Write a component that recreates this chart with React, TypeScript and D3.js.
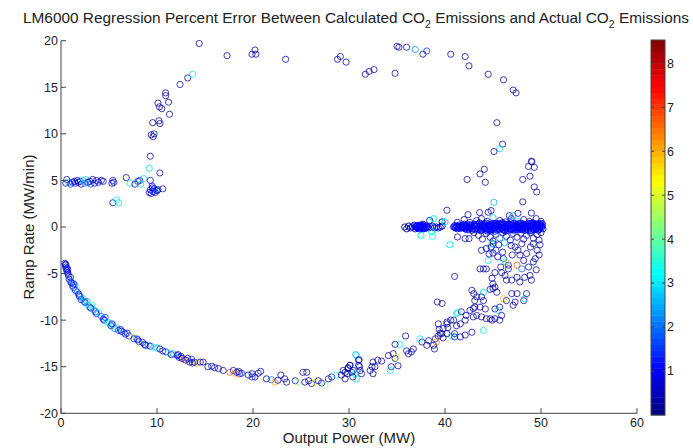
import React from "react";
import * as d3 from "d3";

// ---------- data: [output power MW, ramp rate MW/min, percent error] ----------
const plateauBand: [number, number, number][] = [
  [0.5, 4.7, 0.4], [0.6, 5.1, 0.3], [0.8, 4.8, 2.5], [1.0, 4.6, 1.5], [1.2, 4.8, 0.6], [1.4, 4.9, 0.4],
  [1.5, 4.7, 1.2], [1.7, 5.0, 0.9], [1.8, 4.8, 0.5], [2.0, 4.9, 1.0], [2.1, 4.6, 0.3], [2.3, 5.0, 2.8],
  [2.5, 4.7, 2.2], [2.6, 5.1, 3.0], [2.8, 4.8, 1.1], [3.0, 4.9, 0.5], [3.1, 4.6, 1.8], [3.3, 5.1, 0.3],
  [3.5, 4.7, 0.9], [3.7, 5.0, 0.4], [3.9, 4.8, 1.0], [4.2, 5.0, 0.3], [4.4, 4.9, 0.6], [5.3, 4.7, 0.8],
  [5.4, 5.0, 1.2], [5.5, 4.8, 0.5], [5.4, 2.6, 0.4], [6.0, 2.6, 3.0], [5.8, 2.9, 3.1], [6.8, 5.3, 0.3],
  [7.2, 4.7, 3.0], [7.7, 4.6, 0.3], [8.0, 4.9, 0.3], [8.2, 5.0, 0.4], [8.3, 4.6, 3.0], [8.6, 5.2, 2.8],
  [9.3, 5.0, 0.3], [9.2, 3.7, 0.9], [9.3, 4.0, 1.0], [9.4, 3.6, 0.8], [9.5, 4.2, 1.1], [9.6, 3.8, 0.9],
  [9.7, 4.1, 0.4], [9.8, 3.7, 1.2], [9.9, 4.0, 2.5], [10.0, 3.9, 0.7], [10.1, 4.0, 0.3], [10.6, 4.1, 0.3],
  [9.5, 4.4, 1.0],
];

const risingArc: [number, number, number][] = [
  [10.3, 5.8, 0.3], [9.3, 7.6, 0.3], [9.2, 6.3, 3.0], [9.4, 9.9, 0.3], [9.6, 9.7, 0.3], [9.7, 10.0, 0.4],
  [9.55, 11.2, 0.3], [10.2, 11.4, 0.3], [10.3, 11.1, 0.3], [10.1, 13.3, 0.3], [10.25, 12.9, 0.3],
  [10.5, 12.7, 0.3], [10.9, 14.4, 0.3], [10.9, 14.1, 0.3], [11.2, 13.4, 0.3], [11.3, 12.1, 0.3],
  [12.4, 15.3, 0.4], [13.2, 16.0, 0.3], [13.7, 16.4, 3.0], [14.4, 19.7, 0.3], [17.3, 18.4, 0.3],
  [19.9, 18.55, 0.3], [20.3, 18.55, 0.3], [20.2, 19.0, 0.3],
];

const topArc: [number, number, number][] = [
  [23.4, 18.0, 0.3], [28.8, 18.0, 0.3], [29.1, 18.3, 0.3], [29.7, 17.7, 0.3], [31.7, 16.4, 0.3],
  [32.1, 16.7, 0.3], [32.6, 16.9, 0.3], [34.8, 16.5, 0.3], [35.0, 19.4, 0.5], [35.2, 19.3, 0.3],
  [36.0, 19.3, 0.3], [36.9, 19.05, 2.2], [37.7, 18.55, 0.3], [38.1, 18.9, 1.5], [40.6, 18.55, 0.3],
  [42.1, 18.3, 0.3], [42.5, 17.3, 0.3], [44.5, 16.4, 0.3], [46.1, 15.8, 0.3], [47.1, 14.7, 0.3],
  [47.4, 14.4, 0.2], [45.4, 11.2, 0.3], [46.0, 8.9, 0.3], [45.7, 8.4, 2.8], [45.1, 8.1, 0.3],
  [49.0, 7.06, 0.1], [49.05, 7.0, 0.5], [48.7, 6.5, 0.3], [49.3, 6.4, 0.3], [48.85, 5.45, 0.3],
  [48.1, 5.1, 0.3], [49.3, 4.3, 0.3], [49.55, 3.76, 0.3], [42.3, 5.1, 0.3], [43.65, 5.7, 0.3],
  [44.1, 6.2, 0.3], [44.2, 4.8, 0.3], [45.1, 2.65, 2.5], [48.1, 2.7, 0.3], [40.2, 1.8, 0.3],
  [42.4, 1.33, 0.3], [43.6, 1.55, 0.3], [44.5, 1.58, 0.3], [44.8, 1.76, 0.3], [46.7, 1.22, 0.3],
  [47.1, 1.22, 2.6], [47.6, 1.47, 0.3], [49.0, 1.5, 0.3],
];

const steadyLeft: [number, number, number][] = [
  [35.8, 0.0, 0.3], [36.0, -0.2, 0.4], [36.2, 0.1, 0.3], [36.4, -0.1, 0.8], [36.6, 0.0, 0.3],
  [36.8, 0.2, 1.0], [36.9, -0.2, 1.0], [37.0, 0.0, 1.0], [37.1, 0.1, 1.0], [37.2, -0.1, 1.0],
  [37.3, 0.0, 1.0], [37.4, 0.2, 1.0], [37.5, -0.1, 1.0], [37.6, 0.0, 1.0], [37.7, 0.1, 1.0],
  [37.8, -0.2, 1.0], [37.9, 0.0, 1.0], [38.1, 0.1, 0.8], [38.3, -0.1, 0.3], [38.5, 0.0, 2.0],
  [38.7, 0.1, 0.6], [38.9, -0.1, 0.5], [39.1, 0.0, 1.1], [39.3, -0.1, 1.0], [39.5, 0.0, 1.2],
  [39.7, 0.1, 0.3], [38.6, -0.5, 3.0], [37.5, -0.9, 3.0], [38.7, -1.0, 3.5], [37.7, 0.3, 0.3],
  [38.4, 0.7, 0.3], [38.8, 0.9, 3.0], [39.7, 0.55, 0.3], [40.0, 0.55, 2.8], [40.5, -1.9, 3.0],
  [37.05, 0.15, 1.1], [37.15, -0.15, 1.1], [37.25, 0.1, 1.1], [37.35, -0.2, 1.1], [37.45, 0.05, 1.1],
  [37.55, 0.15, 1.1], [37.65, -0.15, 1.1], [37.75, 0.0, 1.1], [37.85, 0.15, 1.1], [38.0, -0.05, 1.1],
  [36.95, 0.05, 1.1], [37.95, -0.15, 1.1], [38.2, 0.0, 1.0],
];

const steadyBlob: [number, number, number][] = [
  [40.9, 0.0, 1.0], [41.1, -0.1, 1.0], [41.2, 0.1, 0.9], [41.4, 0.0, 1.0], [41.6, -0.15, 1.1],
  [41.7, 0.12, 1.0], [41.9, 0.0, 0.9], [42.1, -0.2, 1.0], [42.2, 0.15, 1.0], [42.4, 0.0, 1.1],
  [42.6, -0.1, 1.0], [42.7, 0.2, 0.9], [42.9, 0.0, 1.0], [43.1, -0.25, 1.0], [43.2, 0.1, 1.0],
  [43.4, 0.3, 0.8], [43.5, -0.05, 1.0], [43.7, 0.15, 1.1], [43.8, -0.3, 1.0], [44.0, 0.0, 1.0],
  [44.1, 0.35, 0.9], [44.3, -0.15, 1.0], [44.4, 0.2, 1.0], [44.6, 0.0, 1.1], [44.7, -0.35, 0.9],
  [44.9, 0.1, 1.0], [45.0, 0.4, 1.0], [45.1, -0.1, 1.0], [45.3, 0.2, 1.0], [45.4, -0.3, 1.0],
  [45.6, 0.05, 0.9], [45.7, 0.35, 1.0], [45.9, -0.15, 1.1], [46.0, 0.15, 1.0], [46.2, -0.35, 1.0],
  [46.3, 0.0, 1.0], [46.5, 0.3, 0.9], [46.6, -0.1, 1.0], [46.8, 0.15, 1.0], [46.9, -0.3, 1.1],
  [47.1, 0.0, 1.0], [47.2, 0.4, 1.0], [47.4, -0.15, 1.0], [47.5, 0.2, 0.9], [47.7, -0.05, 1.0],
  [47.8, 0.35, 1.0], [48.0, -0.3, 1.0], [48.1, 0.1, 1.1], [48.3, -0.1, 1.0], [48.4, 0.25, 1.0],
  [48.6, 0.0, 1.0], [48.7, -0.35, 0.9], [48.9, 0.15, 1.0], [49.0, 0.4, 1.0], [49.2, -0.1, 1.0],
  [49.3, 0.2, 1.1], [49.5, -0.25, 1.0], [49.6, 0.05, 1.0], [49.8, 0.3, 1.0], [49.9, -0.1, 0.9],
  [50.1, 0.1, 1.0], [50.2, -0.2, 0.3], [44.2, 0.05, 1.0], [44.8, -0.2, 1.0], [45.5, 0.25, 1.0],
  [46.1, -0.05, 1.0], [46.7, 0.3, 1.0], [47.3, -0.25, 1.0], [47.9, 0.1, 1.0], [48.5, -0.2, 1.0],
  [49.1, 0.3, 1.0], [49.7, -0.35, 1.0], [42.0, 0.3, 0.3], [42.8, -0.35, 0.3], [43.6, 0.45, 0.3],
  [41.0, 0.15, 1.1], [41.3, -0.2, 1.1], [41.5, 0.2, 1.1], [41.8, -0.05, 1.1], [42.0, 0.05, 1.1],
  [42.3, -0.3, 1.1], [42.5, 0.25, 1.1], [42.8, 0.05, 1.1], [43.0, 0.3, 1.1], [43.3, -0.15, 1.1],
  [43.6, 0.05, 1.1], [43.9, 0.25, 1.1], [44.05, -0.2, 1.1], [44.35, 0.4, 1.1], [44.55, -0.3, 1.1],
  [44.65, 0.25, 1.1], [44.85, 0.3, 1.1], [44.95, -0.15, 1.1], [45.15, 0.3, 1.1], [45.25, -0.05, 1.1],
  [45.45, 0.1, 1.1], [45.65, -0.25, 1.1], [45.8, 0.2, 1.1], [45.95, 0.45, 1.1], [46.05, -0.3, 1.1],
  [46.25, 0.25, 1.1], [46.4, 0.1, 1.1], [46.55, -0.35, 1.1], [46.75, 0.0, 1.1], [46.85, 0.45, 1.1],
  [47.0, 0.2, 1.1], [47.15, -0.35, 1.1], [47.35, 0.25, 1.1], [47.45, 0.05, 1.1], [47.6, -0.3, 1.1],
  [47.75, 0.15, 1.1], [47.95, 0.4, 1.1], [48.05, -0.1, 1.1], [48.2, 0.3, 1.1], [48.35, -0.35, 1.1],
  [48.45, 0.05, 1.1], [48.65, 0.35, 1.1], [48.8, -0.15, 1.1], [48.95, -0.4, 1.1], [49.05, 0.1, 1.1],
  [49.15, 0.45, 1.1], [49.25, -0.3, 1.1], [49.4, 0.0, 1.1], [49.45, 0.35, 1.1], [49.55, -0.1, 1.1],
  [49.65, 0.3, 1.1], [49.75, 0.0, 1.1], [49.85, -0.25, 1.1], [49.95, 0.2, 1.1], [50.05, -0.05, 1.1],
  [50.0, 0.4, 1.1], [43.7, -0.4, 1.1], [44.45, -0.45, 1.1], [45.2, -0.45, 1.1], [46.3, -0.45, 1.1],
  [41.05, -0.05, 1.0], [41.25, 0.05, 1.0], [41.45, -0.1, 1.0], [41.65, 0.05, 1.0], [41.85, 0.2, 1.0],
  [42.05, -0.1, 1.0], [42.25, 0.0, 1.0], [42.45, -0.2, 1.0], [42.65, 0.1, 1.0], [42.85, -0.2, 1.0],
  [43.05, 0.1, 1.0], [43.25, 0.25, 1.0], [43.45, -0.25, 1.0], [43.65, -0.15, 1.0], [43.85, 0.05, 1.0],
  [44.05, 0.2, 1.0], [44.25, -0.35, 1.0], [44.5, 0.1, 1.0], [44.7, 0.15, 1.0], [44.9, -0.3, 1.0],
  [45.1, 0.15, 1.0], [45.35, 0.4, 1.0], [45.55, -0.15, 1.0], [45.75, -0.05, 1.0], [45.9, 0.3, 1.0],
  [46.15, 0.35, 1.0], [46.35, -0.2, 1.0], [46.6, 0.2, 1.0], [46.8, -0.2, 1.0], [47.05, -0.15, 1.0],
  [47.25, 0.1, 1.0], [47.5, -0.05, 1.0], [47.65, 0.35, 1.0], [47.85, -0.2, 1.0], [48.1, -0.25, 1.0],
  [48.3, 0.15, 1.0], [48.55, 0.2, 1.0], [48.75, 0.05, 1.0], [48.85, 0.4, 1.0], [49.1, -0.2, 1.0],
  [49.3, -0.1, 1.0], [49.5, 0.15, 1.0], [49.7, 0.15, 1.0], [49.9, 0.05, 1.0], [50.15, 0.3, 1.0],
];

const blobFringe: [number, number, number][] = [
  [41.3, 0.5, 0.3], [42.0, 0.8, 0.3], [42.6, 0.5, 0.3], [43.3, 0.7, 0.3], [43.8, 0.9, 0.3],
  [44.4, 0.6, 0.3], [45.0, 1.0, 2.8], [45.7, 0.7, 0.3], [46.3, 0.55, 0.3], [46.9, 0.9, 0.3],
  [47.6, 0.6, 3.0], [48.2, 0.8, 0.3], [48.8, 0.6, 0.3], [49.5, 0.9, 0.3], [50.0, 0.6, 0.3],
  [41.3, -1.07, 0.3], [42.1, -1.25, 0.3], [42.5, -1.25, 0.3], [43.0, -0.6, 0.3], [43.5, -0.9, 0.3],
  [43.9, -1.3, 0.3], [44.3, -0.7, 0.3], [44.7, -1.1, 1.2], [45.0, -1.5, 0.3], [45.3, -0.8, 0.3],
  [45.7, -1.2, 2.0], [46.0, -0.6, 0.3], [46.4, -1.0, 0.3], [46.8, -1.4, 0.3], [47.1, -0.7, 1.5],
  [47.5, -1.1, 0.3], [47.9, -0.65, 0.3], [48.2, -1.3, 0.3], [48.5, -0.9, 1.2], [48.9, -0.6, 0.3],
  [49.2, -1.2, 0.3], [49.6, -0.8, 0.3], [50.0, -0.6, 0.3], [49.8, -1.4, 0.3], [44.9, -1.8, 3.0],
  [46.2, -1.7, 2.5], [48.0, -1.8, 0.3], [45.0, -2.8, 0.3], [45.3, -2.5, 1.5], [46.0, -2.7, 0.3],
  [45.6, -1.9, 0.3], [44.6, -2.9, 0.3], [47.8, -3.0, 0.3], [48.7, -4.3, 0.3], [49.5, -4.6, 0.3],
  [49.8, -3.0, 0.3], [49.9, -1.9, 0.3], [48.0, -4.5, 2.0], [47.0, -3.0, 0.3], [46.6, -4.5, 0.3],
  [45.8, -4.3, 0.3],
];

const descentScatter: [number, number, number][] = [
  [43.8, -2.5, 0.3], [44.3, -2.3, 0.3], [44.8, -2.15, 0.3], [45.0, -1.8, 0.3], [44.5, -3.6, 3.0],
  [45.5, -3.2, 0.3], [46.1, -3.4, 0.3], [46.3, -3.75, 3.0], [46.6, -4.1, 0.3], [46.9, -2.0, 0.3],
  [47.3, -2.15, 0.3], [47.6, -2.5, 0.3], [48.2, -3.6, 0.3], [48.5, -2.85, 0.3], [48.9, -2.15, 0.3],
  [49.2, -1.8, 0.3], [49.6, -2.5, 0.3], [49.4, -3.4, 0.3], [49.2, -3.75, 0.3], [47.5, -4.1, 6.8],
  [46.4, -3.9, 5.8], [43.65, -4.5, 0.3], [44.0, -4.5, 0.3], [44.3, -4.5, 0.3], [41.0, -5.3, 0.3],
  [45.2, -4.9, 0.3], [45.9, -4.9, 0.3], [46.25, -5.2, 0.3], [46.4, -5.7, 0.3], [46.95, -5.7, 0.3],
  [47.5, -5.4, 0.3], [47.8, -5.9, 0.3], [48.3, -5.4, 0.3], [48.85, -5.2, 0.3], [49.0, -5.7, 0.3],
  [44.9, -5.5, 0.3], [45.0, -6.1, 0.3], [45.2, -6.45, 0.3], [45.4, -7.0, 0.3], [45.0, -6.6, 0.3],
  [44.7, -6.7, 0.3], [42.8, -6.8, 0.3], [43.0, -7.15, 0.3], [43.3, -7.5, 0.3], [43.1, -7.9, 0.3],
  [44.0, -7.0, 3.0], [43.8, -7.5, 0.3], [44.0, -7.9, 0.3], [43.65, -8.6, 0.3], [44.2, -8.8, 0.3],
  [43.1, -8.6, 0.3], [46.1, -7.7, 6.0], [46.4, -7.9, 0.3], [47.1, -8.4, 0.3], [47.3, -8.05, 0.3],
  [48.2, -7.9, 0.3], [48.3, -7.7, 3.0], [48.5, -7.15, 0.3], [46.95, -7.15, 0.3], [47.5, -7.15, 0.3],
  [45.2, -8.8, 0.3], [45.55, -8.95, 3.0], [45.7, -8.6, 0.3], [45.2, -9.85, 0.3], [44.9, -10.0, 0.3],
  [45.7, -10.0, 0.3], [45.9, -9.5, 0.3], [41.2, -9.3, 3.0], [41.7, -9.1, 0.3], [42.2, -9.5, 0.3],
  [42.6, -8.95, 0.3], [42.95, -8.75, 0.3], [43.3, -9.5, 0.3], [43.8, -9.65, 0.3], [42.95, -9.65, 0.3],
  [42.1, -10.0, 0.3], [41.6, -10.4, 0.3], [40.9, -10.0, 0.3], [40.2, -10.4, 0.3], [39.8, -10.9, 0.3],
  [39.65, -11.45, 0.3], [40.2, -11.45, 0.3], [41.0, -11.45, 0.3], [41.6, -11.8, 0.3], [42.1, -11.6, 0.3],
  [42.8, -11.3, 0.3], [44.0, -11.1, 3.0], [44.3, -9.85, 0.3], [44.7, -9.85, 0.3], [39.2, -8.05, 0.3],
  [39.7, -8.2, 0.3], [41.3, -9.2, 3.0],
];

const recoveryArc: [number, number, number][] = [
  [39.3, -10.4, 0.3], [40.2, -10.2, 0.3], [40.6, -10.0, 0.3], [41.2, -10.6, 0.3], [40.3, -10.8, 0.3],
  [39.4, -11.0, 0.3], [39.5, -11.4, 0.3], [39.3, -11.7, 0.3], [39.8, -11.9, 0.3], [40.7, -11.7, 3.0],
  [41.0, -11.8, 0.3], [39.0, -12.0, 0.3], [39.1, -12.35, 6.5], [38.8, -12.7, 0.3], [38.9, -13.1, 0.3],
  [38.3, -12.2, 0.3], [38.1, -12.7, 0.3], [37.6, -12.35, 0.3], [37.4, -12.0, 3.0], [36.7, -13.1, 0.3],
  [36.5, -13.4, 0.3], [36.2, -13.6, 0.3], [36.0, -13.3, 0.3], [35.9, -11.7, 0.3], [35.3, -12.6, 3.0],
  [34.8, -12.6, 0.3], [34.6, -13.6, 0.3], [34.8, -14.1, 0.3], [35.0, -14.0, 5.0], [35.1, -14.9, 0.3],
  [34.4, -15.0, 0.3], [34.3, -15.4, 3.0], [34.1, -13.8, 0.3], [33.4, -14.4, 0.3], [33.0, -14.3, 0.3],
  [32.5, -14.5, 0.3], [32.7, -15.0, 0.3], [32.4, -15.0, 0.3], [32.2, -15.4, 0.3], [32.5, -15.75, 0.3],
  [30.8, -13.8, 3.0], [31.0, -14.3, 0.3], [31.1, -15.0, 0.3], [30.1, -14.85, 0.3], [29.9, -15.1, 0.3],
  [29.4, -15.4, 0.3], [29.8, -15.75, 0.3], [30.3, -15.6, 0.3], [30.6, -15.75, 3.0], [29.6, -16.3, 0.3],
  [30.4, -16.1, 0.3],
];

const loadingArc: [number, number, number][] = [
  [0.40, -3.9, 1.0], [0.45, -4.1, 0.5], [0.50, -4.3, 1.0], [0.55, -4.5, 1.2], [0.60, -4.7, 0.9],
  [0.65, -4.4, 1.5], [0.70, -4.9, 1.0], [0.75, -5.1, 1.1], [0.80, -5.3, 1.3], [0.85, -5.6, 0.9],
  [0.95, -5.5, 4.5], [1.00, -5.9, 1.8], [1.10, -6.0, 1.0], [1.20, -6.3, 1.2], [1.30, -6.5, 1.5],
  [1.40, -6.2, 2.2], [1.50, -6.8, 1.0], [1.60, -6.6, 4.0], [1.70, -7.0, 1.9], [1.85, -7.2, 1.0],
  [2.00, -7.5, 2.5], [2.10, -7.8, 1.2], [2.30, -7.7, 3.0], [2.50, -8.1, 0.6], [2.70, -8.0, 2.2],
  [2.80, -8.4, 3.2], [3.00, -8.6, 1.8], [3.20, -8.4, 3.5], [3.40, -8.9, 2.6], [3.60, -9.1, 1.2],
  [3.70, -9.3, 1.0], [3.90, -9.2, 3.2], [4.20, -9.6, 2.0], [4.40, -9.9, 1.0], [4.50, -10.0, 0.9],
  [4.80, -10.2, 3.5], [5.00, -10.3, 3.2], [5.20, -10.6, 0.6], [5.40, -10.5, 2.8], [5.60, -10.9, 2.0],
  [5.80, -10.8, 3.3], [6.00, -11.1, 1.4], [6.20, -11.0, 0.5], [6.50, -11.3, 2.5], [6.70, -11.5, 1.0],
  [6.90, -11.4, 0.4], [7.10, -11.7, 1.5], [7.40, -11.8, 5.5], [7.60, -12.0, 1.2], [7.90, -12.0, 2.0],
  [8.10, -12.3, 1.0], [8.30, -12.5, 5.0], [8.50, -12.4, 1.1], [8.70, -12.6, 1.0], [9.10, -12.7, 2.5],
  [9.30, -12.8, 0.5], [9.70, -12.9, 3.2], [10.0, -13.0, 2.8], [10.3, -13.1, 0.4], [10.6, -13.3, 0.3],
  [10.9, -13.4, 1.2], [11.2, -13.5, 3.3], [11.5, -13.7, 0.3], [11.7, -13.6, 2.5], [12.1, -13.8, 1.0],
  [12.3, -14.0, 1.2], [12.5, -13.9, 0.5], [12.8, -14.2, 6.5], [13.0, -14.3, 0.3], [13.2, -14.1, 0.5],
  [13.4, -14.5, 0.3], [13.6, -14.2, 1.5], [13.9, -14.5, 0.3], [14.2, -14.6, 6.0], [14.5, -14.5, 0.6],
  [15.3, -15.0, 0.3], [15.7, -14.95, 1.0], [16.0, -15.1, 0.3], [16.4, -15.2, 0.5], [16.9, -15.4, 0.3],
  [17.6, -15.6, 6.8], [17.95, -15.4, 0.3], [18.3, -15.6, 0.5], [18.6, -15.75, 1.0], [18.8, -15.7, 1.2],
  [19.5, -15.9, 0.3], [19.9, -15.75, 0.4], [20.2, -16.1, 0.3], [20.55, -15.7, 0.5], [20.8, -15.5, 0.3],
  [21.4, -16.3, 0.3], [21.9, -16.4, 2.0], [22.3, -16.65, 6.2], [22.6, -16.45, 0.3], [22.9, -15.9, 0.3],
  [23.3, -16.3, 0.5], [23.5, -16.65, 0.3], [24.4, -16.5, 0.3], [24.7, -16.65, 4.5], [25.2, -15.6, 0.3],
  [25.6, -15.6, 0.3], [25.4, -16.65, 0.5], [25.8, -16.5, 0.3], [26.1, -16.8, 0.3], [26.45, -16.65, 5.0],
  [26.8, -16.5, 0.3], [27.15, -16.75, 0.3], [27.5, -17.0, 4.2], [27.85, -16.3, 0.3], [28.2, -16.1, 0.3],
  [28.7, -15.9, 3.0], [29.2, -15.9, 0.3], [29.6, -15.6, 0.3], [29.9, -15.2, 0.3], [30.1, -14.85, 0.5],
  [30.45, -15.4, 0.3], [30.8, -16.3, 3.0], [31.0, -14.85, 0.3], [31.15, -15.4, 0.3], [31.3, -15.75, 0.3],
  [30.7, -13.7, 2.5], [31.05, -14.25, 0.3], [0.5, -4.0, 0.3], [0.7, -4.6, 1.0], [1.0, -5.4, 1.0],
  [1.3, -6.1, 1.1], [1.9, -7.4, 1.0], [2.4, -8.0, 2.0], [3.1, -8.7, 1.0], [4.6, -9.7, 1.5],
  [5.3, -10.4, 1.0], [6.3, -11.2, 1.0], [8.0, -12.1, 1.1], [8.8, -12.7, 0.5], [12.2, -13.7, 0.3],
  [12.6, -14.1, 0.3], [13.7, -14.6, 0.3], [14.8, -14.5, 0.3], [18.3, -15.8, 6.0], [18.5, -15.5, 0.3],
  [19.9, -16.1, 1.5],
];

const xTicks = [0, 10, 20, 30, 40, 50, 60];
const yTicks = [-20, -15, -10, -5, 0, 5, 10, 15, 20];
const cTicks = [1, 2, 3, 4, 5, 6, 7, 8];
const cMax = 8.53;

const scatterPoints = [
  ...loadingArc, ...recoveryArc, ...descentScatter, ...blobFringe, ...plateauBand,
  ...risingArc, ...topArc,
];
const densePoints = [...steadyLeft, ...steadyBlob];

// MATLAB jet colormap
function jet(t: number): string {
  const c = (v: number) => Math.max(0, Math.min(1, v));
  const r = c(1.5 - Math.abs(4 * t - 3));
  const g = c(1.5 - Math.abs(4 * t - 2));
  const b = c(1.5 - Math.abs(4 * t - 1));
  return d3.rgb(r * 255, g * 255, b * 255).formatHex();
}

const W = 693, H = 448;
const M = { left: 61, right: 637, top: 40.7, bottom: 413.3 };
const CB = { x: 651, w: 14, top: 40, bottom: 415 };
const FONT = "'Liberation Sans', Arial, sans-serif";

export default function App() {
  const x = d3.scaleLinear().domain([0, 60]).range([M.left, M.right]);
  const y = d3.scaleLinear().domain([-20, 20]).range([M.bottom, M.top]);
  const cNorm = d3.scaleLinear().domain([0, cMax]).range([0, 1]).clamp(true);
  const cY = d3.scaleLinear().domain([0, cMax]).range([CB.bottom, CB.top]);
  const bands = d3.range(64);
  const bandH = (CB.bottom - CB.top) / 64;
  const axisColor = "#444";

  return (
    <svg width={W} height={H} style={{ position: "absolute", left: 0, top: 0, background: "#fff" }}
      fontFamily={FONT}>
      <rect x={0} y={0} width={W} height={H} fill="#fff" />
      {/* title */}
      <text x={356} y={23} textAnchor="middle" fontSize={15.4} fill="#222">
        LM6000 Regression Percent Error Between Calculated CO
        <tspan fontSize={10.5} dy={5}>2</tspan>
        <tspan dy={-5}> Emissions and Actual CO</tspan>
        <tspan fontSize={10.5} dy={5}>2</tspan>
        <tspan dy={-5}> Emissions</tspan>
      </text>

      {/* points */}
      <g fill="none" strokeWidth={1}>
        {scatterPoints.map((p, i) => (
          <circle key={"s" + i} cx={x(p[0])} cy={y(p[1])} r={3.1} stroke={jet(cNorm(p[2]))} strokeOpacity={0.75} />
        ))}
        {densePoints.map((p, i) => (
          <circle key={"d" + i} cx={x(p[0])} cy={y(p[1])} r={3.1} stroke={jet(cNorm(p[2]))} strokeOpacity={0.9} />
        ))}
      </g>

      {/* axes */}
      <line x1={M.left} x2={M.left} y1={M.top} y2={M.bottom} stroke={axisColor} />
      <line x1={M.left} x2={M.right} y1={M.bottom} y2={M.bottom} stroke={axisColor} />
      {yTicks.map((t) => (
        <g key={"y" + t}>
          <line x1={M.left} x2={M.left + 5} y1={y(t)} y2={y(t)} stroke={axisColor} />
          <text x={M.left - 3} y={y(t)} dy="0.35em" textAnchor="end" fontSize={12.5} fill="#222">{t}</text>
        </g>
      ))}
      {xTicks.map((t) => (
        <g key={"x" + t}>
          <line x1={x(t)} x2={x(t)} y1={M.bottom} y2={M.bottom - 5} stroke={axisColor} />
          <text x={x(t)} y={M.bottom + 14} textAnchor="middle" fontSize={12.5} fill="#222">{t}</text>
        </g>
      ))}
      <text x={(M.left + M.right) / 2} y={443} textAnchor="middle" fontSize={15} fill="#222">Output Power (MW)</text>
      <text transform={`translate(34, ${(M.top + M.bottom) / 2}) rotate(-90)`} textAnchor="middle" fontSize={15} fill="#222">
        Ramp Rate (MW/min)
      </text>

      {/* colorbar */}
      {bands.map((b) => (
        <rect key={"b" + b} x={CB.x} width={CB.w} y={CB.bottom - (b + 1) * bandH} height={bandH + 0.4}
          fill={jet((b + 0.5) / 64)} />
      ))}
      <rect x={CB.x} y={CB.top} width={CB.w} height={CB.bottom - CB.top} fill="none" stroke={axisColor} />
      {cTicks.map((t) => (
        <g key={"c" + t}>
          <line x1={CB.x} x2={CB.x + 3} y1={cY(t)} y2={cY(t)} stroke={axisColor} />
          <line x1={CB.x + CB.w - 3} x2={CB.x + CB.w} y1={cY(t)} y2={cY(t)} stroke={axisColor} />
          <text x={CB.x + CB.w + 2} y={cY(t)} dy="0.35em" fontSize={12.5} fill="#222">{t}</text>
        </g>
      ))}
    </svg>
  );
}
